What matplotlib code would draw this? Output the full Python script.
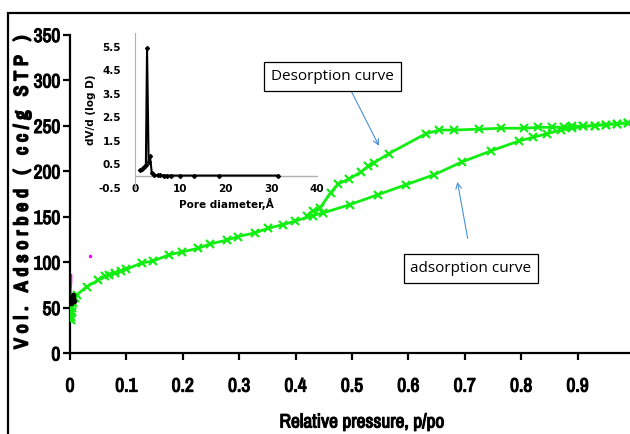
import matplotlib.pyplot as plt
import matplotlib.patheffects as pe
from matplotlib.patches import Rectangle
from matplotlib import font_manager

# ---------------------------------------------------------------------------
# Data
# ---------------------------------------------------------------------------

# adsorption branch (lower)
ads_p = [0.001, 0.002, 0.003, 0.004, 0.006, 0.008, 0.012, 0.03, 0.05, 0.062,
         0.07, 0.08, 0.09, 0.1, 0.127, 0.147, 0.176, 0.198, 0.227, 0.249,
         0.278, 0.298, 0.328, 0.351, 0.377, 0.399, 0.43, 0.449, 0.496, 0.546,
         0.596, 0.646, 0.695, 0.746, 0.796, 0.821, 0.846, 0.87, 0.89, 0.91,
         0.93, 0.95, 0.97, 0.99]
ads_v = [36, 40, 45, 50, 55, 60, 64, 73, 80, 85,
         86, 88, 90, 92, 99, 101, 108, 111, 115, 120,
         124, 128, 132, 137, 141, 145, 151, 154, 163, 174,
         185, 196, 210, 222, 233, 237, 241, 245, 247, 249,
         250, 251, 252, 253]

# desorption branch (upper)
des_p = [0.99, 0.97, 0.95, 0.93, 0.91, 0.89, 0.875, 0.854, 0.83, 0.805,
         0.765, 0.725, 0.681, 0.655, 0.631, 0.565, 0.539, 0.529, 0.516, 0.494,
         0.476, 0.462, 0.443, 0.431, 0.42]
des_v = [253, 252, 251, 250, 249, 249, 248, 248, 248, 247,
         247, 246, 245, 245, 241, 219, 209, 205, 199, 191,
         186, 176, 159, 156, 151]

# small series near p=0
blk_p = [0.002, 0.003, 0.004, 0.005, 0.006, 0.007]
blk_v = [55, 58, 62, 60, 64, 57]
mag_p = [0.0, 0.0, 0.001, 0.001]
mag_v = [62, 70, 78, 85]

# inset: pore size distribution
pore_d = [1.1, 1.5, 2.0, 2.4, 2.65, 3.0, 3.3, 3.7, 4.2, 5.0, 5.6, 6.3, 7.0,
          8.0, 10.0, 13.0, 18.5, 31.5]
pore_dv = [0.25, 0.3, 0.38, 0.48, 5.45, 0.6, 0.85, 0.12, 0.04, 0.03, 0.03,
           0.02, 0.02, 0.02, 0.02, 0.02, 0.02, 0.02]

x_ticks = [0, 0.1, 0.2, 0.3, 0.4, 0.5, 0.6, 0.7, 0.8, 0.9]
x_tick_labels = ["0", "0.1", "0.2", "0.3", "0.4", "0.5", "0.6", "0.7", "0.8", "0.9"]
y_ticks = [0, 50, 100, 150, 200, 250, 300, 350]
in_x_ticks = [0, 10, 20, 30, 40]
in_y_ticks = [-0.5, 0.5, 1.5, 2.5, 3.5, 4.5, 5.5]
in_y_labels = ["-0.5", "0.5", "1.5", "2.5", "3.5", "4.5", "5.5"]

# ---------------------------------------------------------------------------
# Figure
# ---------------------------------------------------------------------------

# narrow face for the axis texts (Arial Narrow look-alike), thickened with a stroke
names = {f.name for f in font_manager.fontManager.ttflist}
NARROW = next((n for n in ["Liberation Sans Narrow", "Archivo Narrow",
                           "Sofia Sans Condensed"] if n in names), "DejaVu Sans")
HEAVY = [pe.withStroke(linewidth=0.8, foreground="black")]
GREEN = "#12EE12"

fig = plt.figure(figsize=(6.3, 4.34), dpi=100)

# outer frame (cut off at right and bottom)
fig.patches.append(Rectangle((8 / 630, -0.05), 1.2, 1.05 - 13 / 434,
                             transform=fig.transFigure, fill=False,
                             edgecolor="black", linewidth=1.6))

ax = fig.add_axes([70 / 630, 1 - 353 / 434, 564 / 630, 318.5 / 434])
ax.set_facecolor("none")

ax.plot(ads_p, ads_v, color=GREEN, lw=2, marker="x", ms=6, mew=1.6, zorder=3)
ax.plot(des_p, des_v, color=GREEN, lw=2, marker="x", ms=6, mew=1.6, zorder=3)
ax.plot(blk_p, blk_v, color="black", lw=2.5, marker="o", ms=3, zorder=4)
ax.plot(mag_p, mag_v, color="#ff00ff", lw=2.5, zorder=2)
ax.plot([0.035], [107], color="#ff00ff", marker="o", ms=1.5, ls="none")

ax.set_xlim(0, 1)
ax.set_ylim(0, 350)
ax.set_xticks(x_ticks)
ax.set_xticklabels(x_tick_labels)
ax.set_yticks(y_ticks)
for s in ["top", "right"]:
    ax.spines[s].set_visible(False)
for s in ["left", "bottom"]:
    ax.spines[s].set_linewidth(1.6)
ax.tick_params(axis="both", direction="out", length=5, width=1.6,
               labelsize=14)
ax.tick_params(axis="x", pad=12)
ax.tick_params(axis="y", pad=2)
for lab in ax.get_xticklabels() + ax.get_yticklabels():
    lab.set(fontweight="bold", family=NARROW, path_effects=HEAVY)

ylab = "\u2009\u2009".join("Vol. Adsorbed ( cc/g STP )")
fig.text(22 / 630, 1 - 192 / 434, ylab,
         rotation=90, ha="center", va="center", fontsize=14,
         fontweight="bold", family=[NARROW, "DejaVu Sans"],
         path_effects=[pe.withStroke(linewidth=1.3, foreground="black")])
fig.text(362 / 630, 1 - 422 / 434, "Relative pressure, p/po",
         ha="center", va="center", fontsize=14, fontweight="bold",
         family=NARROW, path_effects=HEAVY)

# annotations
box = dict(boxstyle="square,pad=0.45", fc="white", ec="black", lw=0.9)
arrow = dict(arrowstyle="->", color="#4a8fdc", lw=0.8)
ax.annotate("", xy=(0.55, 225), xytext=(0.496, 291), arrowprops=arrow)
ax.annotate("", xy=(0.686, 191), xytext=(0.706, 123), arrowprops=arrow)
ax.text(0.465, 304, "Desorption curve", ha="center", va="center",
        fontsize=11, family="Open Sans", bbox=box, zorder=5)
ax.text(0.711, 93, "adsorption curve", ha="center", va="center",
        fontsize=11, family="Open Sans", bbox=box, zorder=5)

# ---------------------------------------------------------------------------
# Inset
# ---------------------------------------------------------------------------

ins = fig.add_axes([135 / 630, 1 - 187.75 / 434, 183 / 630, 155 / 434])
ins.set_facecolor("none")
ins.plot(pore_d, pore_dv, color="black", lw=1.5, marker="D", ms=2, zorder=3)
ins.axhline(0, color="#b0b0b0", lw=1, zorder=1)
ins.set_xlim(0, 40.3)
ins.set_ylim(-0.5, 6.1)
ins.set_xticks(in_x_ticks)
ins.set_yticks(in_y_ticks)
ins.set_yticklabels(in_y_labels)
for s in ["top", "right", "bottom"]:
    ins.spines[s].set_visible(False)
ins.spines["left"].set_color("#b0b0b0")
ins.tick_params(axis="both", length=0, labelsize=7.5)
ins.tick_params(axis="y", pad=10)
ins.tick_params(axis="x", pad=-3)
for lab in ins.get_xticklabels() + ins.get_yticklabels():
    lab.set_fontweight("bold")
ins.set_xlabel("Pore diameter,Å", fontsize=7.5, fontweight="bold", labelpad=3)
ins.set_ylabel("dV/d (log D)", fontsize=7.5, fontweight="bold", labelpad=2)

plt.savefig("out.png", dpi=100)
